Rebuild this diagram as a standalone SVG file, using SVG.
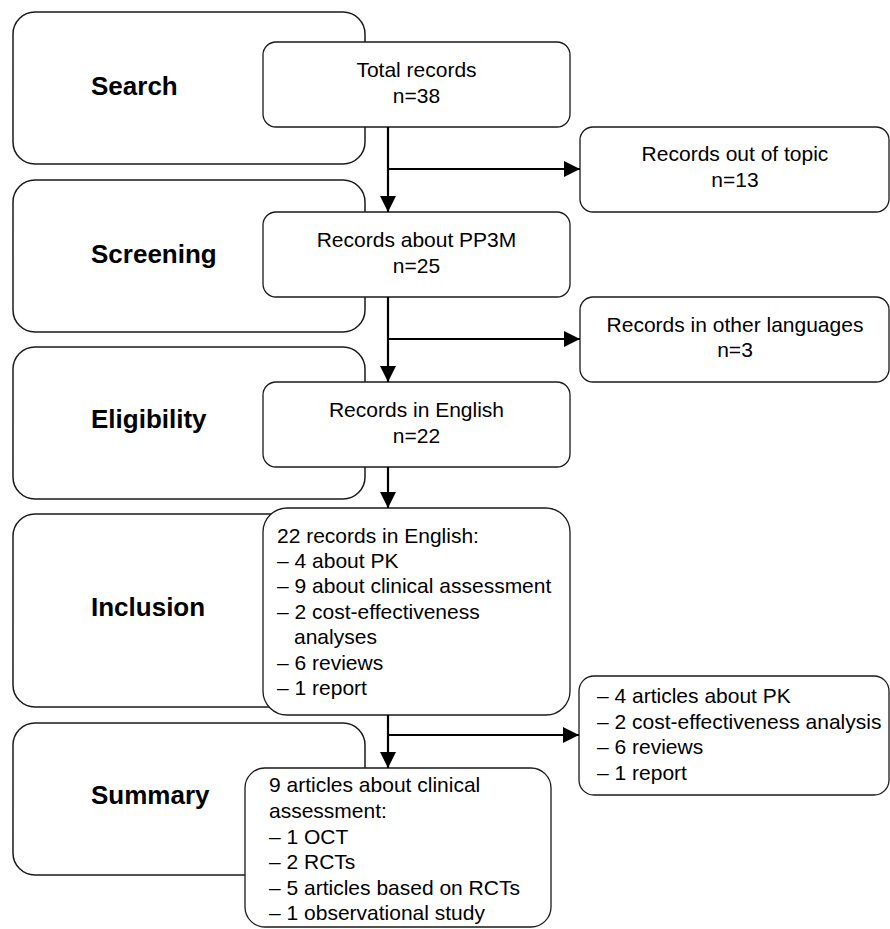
<svg xmlns="http://www.w3.org/2000/svg" width="890" height="929" viewBox="0 0 890 929">
<style>
.stage{fill:#fff;stroke:#1a1a1a;stroke-width:1.5}
.box{fill:#fff;stroke:#1a1a1a;stroke-width:1.3}
.lbl{font-family:"Liberation Sans",Arial,sans-serif;font-weight:bold;font-size:26px;fill:#000}
.t{font-family:"Liberation Sans",Arial,sans-serif;font-size:21px;fill:#000}
.c{text-anchor:middle}
.conn{fill:none;stroke:#000;stroke-width:2.2}
</style>
<defs>
<marker id="ah" viewBox="0 0 16 16" refX="16" refY="8" markerWidth="16" markerHeight="16" markerUnits="userSpaceOnUse" orient="auto">
<path d="M0,0 L16,8 L0,16 z" fill="#000"/>
</marker>
</defs>

<g id="stage-search"><rect class="stage" x="13" y="12" width="352" height="152" rx="22"/><text class="lbl" x="91" y="95">Search</text></g>
<g id="stage-screening"><rect class="stage" x="13" y="180" width="352" height="152" rx="22"/><text class="lbl" x="91" y="263">Screening</text></g>
<g id="stage-eligibility"><rect class="stage" x="13" y="347" width="352" height="152" rx="22"/><text class="lbl" x="91" y="428">Eligibility</text></g>
<g id="stage-inclusion"><rect class="stage" x="13" y="514" width="352" height="193" rx="22"/><text class="lbl" x="91" y="616">Inclusion</text></g>
<g id="stage-summary"><rect class="stage" x="13" y="723" width="352" height="152" rx="22"/><text class="lbl" x="91" y="804">Summary</text></g>

<g id="total"><rect class="box" x="263" y="42" width="307" height="85" rx="13"/><text class="t c" x="416.5" y="77">Total records</text><text class="t c" x="416.5" y="103">n=38</text></g>
<g id="about"><rect class="box" x="263" y="212" width="307" height="85" rx="13"/><text class="t c" x="416.5" y="247">Records about PP3M</text><text class="t c" x="416.5" y="273">n=25</text></g>
<g id="english"><rect class="box" x="263" y="382" width="307" height="85" rx="13"/><text class="t c" x="416.5" y="417">Records in English</text><text class="t c" x="416.5" y="443">n=22</text></g>
<g id="included"><rect class="box" x="263" y="508" width="307" height="207" rx="24"/>
<text class="t" x="277" y="543">22 records in English:</text>
<text class="t" x="277" y="568">– 4 about PK</text>
<text class="t" x="277" y="593">– 9 about clinical assessment</text>
<text class="t" x="277" y="619">– 2 cost-effectiveness</text>
<text class="t" x="294" y="644">analyses</text>
<text class="t" x="277" y="670">– 6 reviews</text>
<text class="t" x="277" y="695">– 1 report</text>
</g>
<g id="summary"><rect class="box" x="245" y="768" width="306" height="159" rx="20"/>
<text class="t" x="269" y="792">9 articles about clinical</text>
<text class="t" x="269" y="818">assessment:</text>
<text class="t" x="269" y="844">– 1 OCT</text>
<text class="t" x="269" y="869">– 2 RCTs</text>
<text class="t" x="269" y="895">– 5 articles based on RCTs</text>
<text class="t" x="269" y="920">– 1 observational study</text>
</g>

<g id="out-of-topic"><rect class="box" x="580" y="127" width="309" height="85" rx="13"/><text class="t c" x="735" y="161">Records out of topic</text><text class="t c" x="735" y="187">n=13</text></g>
<g id="other-languages"><rect class="box" x="580" y="297" width="309" height="85" rx="13"/><text class="t c" x="735" y="332">Records in other languages</text><text class="t c" x="735" y="357">n=3</text></g>
<g id="excluded"><rect class="box" x="579" y="676" width="310" height="119" rx="15"/>
<text class="t" x="597" y="703">– 4 articles about PK</text>
<text class="t" x="597" y="729">– 2 cost-effectiveness analysis</text>
<text class="t" x="597" y="754">– 6 reviews</text>
<text class="t" x="597" y="780">– 1 report</text>
</g>

<g id="connectors">
<line class="conn" x1="388" y1="127" x2="388" y2="212" marker-end="url(#ah)"/>
<line class="conn" x1="388" y1="169" x2="580" y2="169" marker-end="url(#ah)"/>
<line class="conn" x1="388" y1="297" x2="388" y2="382" marker-end="url(#ah)"/>
<line class="conn" x1="388" y1="339" x2="580" y2="339" marker-end="url(#ah)"/>
<line class="conn" x1="388" y1="467" x2="388" y2="508" marker-end="url(#ah)"/>
<line class="conn" x1="388" y1="715" x2="388" y2="768" marker-end="url(#ah)"/>
<line class="conn" x1="388" y1="735" x2="579" y2="735" marker-end="url(#ah)"/>
</g>
</svg>
